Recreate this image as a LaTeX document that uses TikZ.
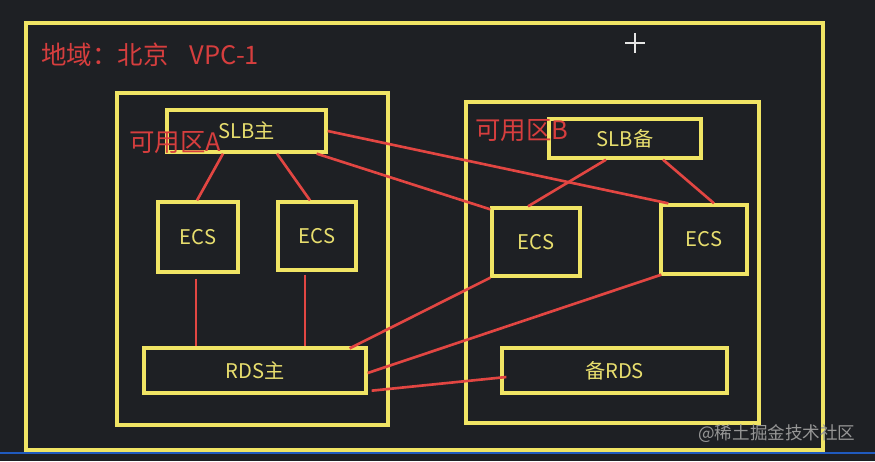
\documentclass[tikz,border=0pt]{standalone}
\usepackage{fontspec}
\setmainfont{Noto Sans CJK SC}
\usetikzlibrary{calc}
\definecolor{bg}{RGB}{30,32,36}
\definecolor{ybox}{RGB}{240,228,100}
\definecolor{ytext}{RGB}{232,222,110}
\definecolor{rline}{RGB}{226,70,66}
\definecolor{rtext}{RGB}{214,62,62}
\definecolor{bline}{RGB}{32,90,190}
\definecolor{wm}{RGB}{150,150,150}
\tikzset{
  box/.style={draw=ybox, line width=1.9pt, rectangle, inner sep=0pt, text=ytext, font=\fontsize{11.5}{13}\selectfont},
  zone/.style={draw=ybox, line width=1.9pt, rectangle, inner sep=0pt},
  link/.style={draw=rline, line width=1.5pt},
  lbl/.style={text=rtext, font=\fontsize{14.5}{16}\selectfont, inner sep=0pt, anchor=west}
}
\begin{document}
\begin{tikzpicture}[x=0.02cm, y=-0.02cm]
\fill[bg] (0,0) rectangle (875,461);
\useasboundingbox (0,0) rectangle (875,461);
\draw[bline, line width=1.2pt] (0,453) -- (875,453);
% outer region
\node[zone, minimum width=15.94cm, minimum height=8.54cm] (outer) at (424.5,236.5) {};
\node[lbl] (title) at (41,55) {地域：北京\hspace{12pt}VPC-1};
% crosshair
\coordinate (cross) at (635,43);
\draw[white!80!gray, line width=0.7pt] ($(cross)+(-10,0)$) -- ($(cross)+(10,0)$);
\draw[white!80!gray, line width=0.7pt] ($(cross)+(0,-10)$) -- ($(cross)+(0,10)$);
% zones
\node[zone, minimum width=5.42cm, minimum height=6.64cm] (zoneA) at (252.5,259) {};
\node[zone, minimum width=5.86cm, minimum height=6.42cm] (zoneB) at (612.5,262.5) {};
% boxes
\node[box, minimum width=3.18cm, minimum height=0.84cm] (slbm) at (246.5,131) {SLB主};
\node[box, minimum width=1.6cm, minimum height=1.4cm] (ecs1) at (198,237) {ECS};
\node[box, minimum width=1.56cm, minimum height=1.36cm] (ecs2) at (317,236) {ECS};
\node[box, minimum width=4.44cm, minimum height=0.9cm] (rdsm) at (255,370.5) {RDS主};
\node[box, minimum width=3.04cm, minimum height=0.78cm] (slbb) at (625,138.5) {SLB备};
\node[box, minimum width=1.76cm, minimum height=1.36cm] (ecs3) at (536,242) {ECS};
\node[box, minimum width=1.72cm, minimum height=1.38cm] (ecs4) at (704,239.5) {ECS};
\node[box, minimum width=4.5cm, minimum height=0.9cm] (rdsb) at (614.5,370.5) {备RDS};
% zone labels
\node[lbl] (labA) at (129,143) {可用区A};
\node[lbl] (labB) at (475,131) {可用区B};
% links
\draw[link] ($(slbm.south)+(-23.5,0)$) -- ($(ecs1.north)+(-1,0)$);
\draw[link] ($(slbm.south)+(30.5,0)$) -- ($(ecs2.north)+(-7,0)$);
\draw[link] (slbm.east) -- ($(ecs4.north west)+(9,0)$);
\draw[link] ($(slbm.south east)+(-11,0)$) -- ($(ecs3.north west)+(0,3)$);
\draw[link] ($(slbb.south)+(-19,0)$) -- ($(ecs3.north)+(-8,0)$);
\draw[link] ($(slbb.south)+(38,0)$) -- ($(ecs4.north)+(10,0)$);
\coordinate (e1b) at ($(ecs1.south)+(-2,5)$);
\coordinate (e2b) at ($(ecs2.south)+(-12,3)$);
\draw[link] (e1b) -- (e1b |- rdsm.north);
\draw[link] (e2b) -- (e2b |- rdsm.north);
\draw[link] ($(rdsm.north east)+(-18,2)$) -- (ecs3.south west);
\draw[link] ($(rdsm.east)+(0,2.5)$) -- ($(ecs4.south west)+(2,-1)$);
\draw[link] ($(rdsm.south east)+(4,-4)$) -- ($(rdsb.west)+(6,6.5)$);
% watermark
\node[text=wm, font=\fontsize{10}{12}\selectfont, inner sep=0pt, anchor=west] (wmk) at (698,434) {@稀土掘金技术社区};
\end{tikzpicture}
\end{document}
